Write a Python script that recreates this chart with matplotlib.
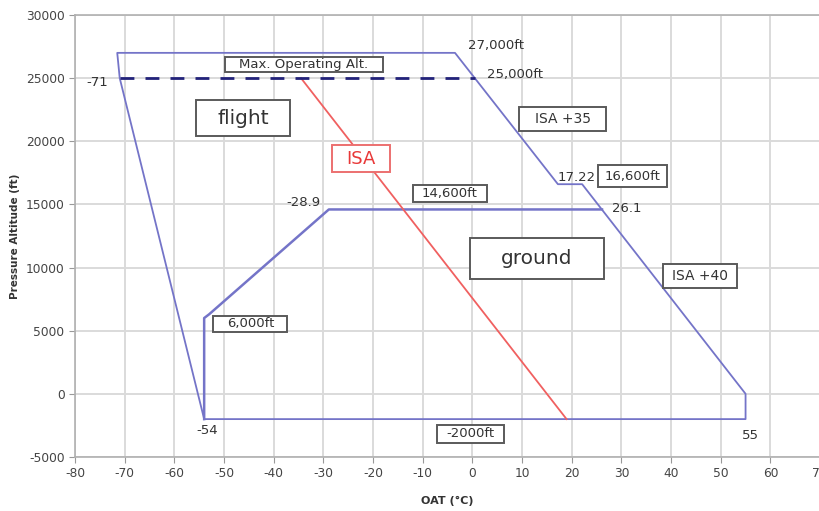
import matplotlib
matplotlib.use("Agg")
import matplotlib.pyplot as plt
from matplotlib.patches import Rectangle

plt.rcParams['font.family'] = ['DejaVu Sans']
plt.rcParams['axes.unicode_minus'] = False

# --- envelope outline (OAT degC, pressure altitude ft) ---
flight_oat = [-54, -71, -71.5, -3.5, 17.22, 22.1, 55, 55, -54]
flight_alt = [-2000, 25000, 27000, 27000, 16600, 16600, 0, -2000, -2000]

# --- ground operating region ---
ground_oat = [-54, -54, -53, -28.9, 26.1]
ground_alt = [-2000, 6000, 6300, 14600, 14600]

# --- ISA line ---
isa_oat = [-34.5, 18.96]
isa_alt = [25000, -2000]

# --- max operating altitude ---
maxop_oat = [-71, 0.5]
maxop_alt = [25000, 25000]

# --- boxed labels: text, centre x, centre y ---
box_text = ["Max. Operating Alt.", "flight", "ISA +35", "16,600ft", "14,600ft",
            "ground", "ISA +40", "6,000ft", "-2000ft"]
box_x = [-33.9, -46.1, 18.2, 32.3, -4.6, 13.0, 45.9, -44.7, -0.3]
box_y = [26070, 21825, 21750, 17220, 15830, 10750, 9370, 5560, -3170]
# box sizes (layout only)
box_w = [32.0, 18.9, 17.5, 13.9, 14.9, 26.8, 14.9, 14.9, 13.5]
box_h = [1190, 2860, 1900, 1750, 1350, 3250, 1900, 1270, 1430]
box_size = [9.5, 14.5, 10, 9.5, 9.5, 14.5, 10, 9.5, 9.5]

# --- plain labels ---
plain_text = ["27,000ft", "25,000ft", "17.22", "-28.9", "26.1", "-54", "55", "-71"]
plain_x = [-0.8, 3.0, 17.1, -34, 28.2, -53.3, 55.9, -75.5]
plain_y = [27550, 25250, 17140, 15160, 14680, -2940, -3330, 24680]
plain_ha = ["left", "left", "left", "center", "left", "center", "center", "center"]

line_blue = "#7474c8"
text_col = "#333333"
edge_col = "#5a5a5a"

fig = plt.figure(figsize=(8.19, 5.11), dpi=100)
ax = fig.add_axes([0.0916, 0.1057, 0.9097, 0.865])

ax.plot(flight_oat, flight_alt, color=line_blue, lw=1.3, zorder=3)
ax.plot(ground_oat, ground_alt, color=line_blue, lw=1.8, zorder=3)
ax.plot(isa_oat, isa_alt, color="#f06060", lw=1.3, zorder=3)
ax.plot(maxop_oat, maxop_alt, color="#22227a", lw=2, dashes=(5, 4), zorder=3)

for t, x, y, w, h, s in zip(box_text, box_x, box_y, box_w, box_h, box_size):
    ax.add_patch(Rectangle((x - w / 2, y - h / 2), w, h, fc="white", ec=edge_col,
                           lw=1.4, zorder=4))
    ax.text(x, y, t, ha="center", va="center", fontsize=s, color=text_col, zorder=5)

# ISA box in red
ax.add_patch(Rectangle((-22.5 - 5.85, 18610 - 1070), 11.7, 2140, fc="white",
                       ec="#ec7070", lw=1.4, zorder=4))
ax.text(-22.5, 18610, "ISA", ha="center", va="center", fontsize=13, color="#e83838",
        zorder=5)

for t, x, y, ha in zip(plain_text, plain_x, plain_y, plain_ha):
    ax.text(x, y, t, ha=ha, va="center", fontsize=9.5, color=text_col, zorder=5)

ax.set_xlim(-80, 70)
ax.set_ylim(-5000, 30000)
ax.set_xticks(range(-80, 71, 10))
ax.set_yticks(range(-5000, 30001, 5000))
ax.grid(True, color="#dadada", lw=1.4)
ax.set_axisbelow(True)
for sp in ax.spines.values():
    sp.set_color("#b0b0b0")
    sp.set_linewidth(1.2)
ax.tick_params(labelsize=8.8, colors="#999999", labelcolor="#444444", length=4)

ax.set_xlabel("OAT (°C)", fontsize=8, fontweight="bold", color=text_col, labelpad=11)
ax.set_ylabel("Pressure Altitude (ft)", fontsize=7.5, fontweight="bold", color=text_col,
              labelpad=4)

fig.savefig("out.png", dpi=100)
